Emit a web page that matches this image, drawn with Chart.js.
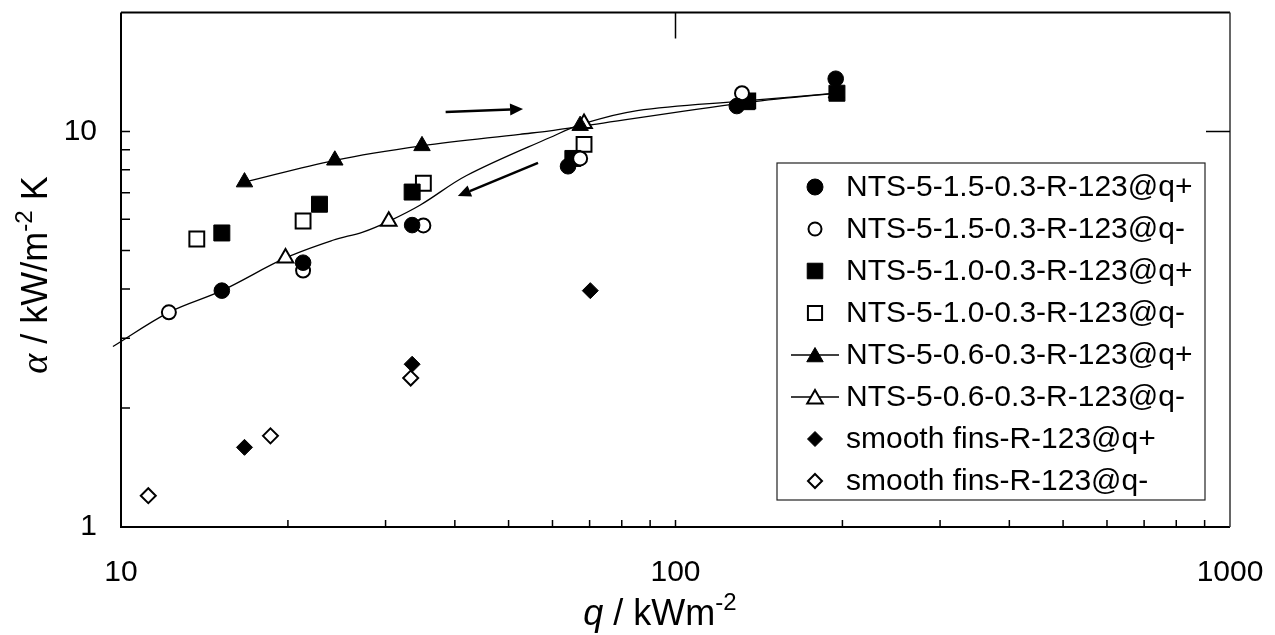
<!DOCTYPE html>
<html>
<head>
<meta charset="utf-8">
<script src="https://cdn.jsdelivr.net/npm/chart.js"></script>
<style>
  html, body { margin: 0; padding: 0; background: #fff; }
</style>
</head>
<body>
<canvas id="chart" width="1275" height="635"></canvas>
<script>
const FONT = '"Liberation Sans", Arial, sans-serif';

// heat flux q (kW/m2) and heat transfer coefficient alpha (kW/m2K)
const q15Up = [15.2, 21.3, 33.5, 64.0, 129, 194.5];
const a15Up = [3.96, 4.66, 5.80, 8.17, 11.6, 13.6];
const q15Down = [12.2, 21.3, 35.1, 67.3, 131.8];
const a15Down = [3.49, 4.45, 5.79, 8.55, 12.5];
const q10Up = [15.2, 22.8, 33.5, 65.3, 134.5, 195.5];
const a10Up = [5.54, 6.55, 7.03, 8.55, 11.9, 12.5];
const q10Down = [13.7, 21.3, 35.1, 68.4, 135];
const a10Down = [5.35, 5.94, 7.40, 9.28, 11.96];
const q06Up = [16.7, 24.3, 34.9, 67.3, 131.8, 195];
const a06Up = [7.45, 8.46, 9.2, 10.35, 11.9, 12.5];
const q06Down = [19.8, 30.4, 68.4, 133];
const a06Down = [4.79, 5.93, 10.48, 12.0];
const qSmoothUp = [16.7, 33.5, 70.2];
const aSmoothUp = [1.59, 2.58, 3.96];
const qSmoothDown = [11.2, 18.6, 33.3];
const aSmoothDown = [1.20, 1.70, 2.38];

// trend lines drawn with the 0.6 series
const qCurveUp = [16.7, 24.3, 34.9, 52.4, 59.4, 67.3, 131.8, 195];
const aCurveUp = [7.45, 8.46, 9.2, 9.84, 10.04, 10.3, 11.8, 12.5];
const qCurveDown = [9.67, 12.2, 15.2, 19.8, 24.1, 27.3, 30.4, 34.6, 42.0, 59.4, 68.4, 85.3, 133, 195];
const aCurveDown = [2.86, 3.49, 3.96, 4.79, 5.31, 5.57, 5.93, 6.51, 7.74, 9.66, 10.48, 11.3, 11.95, 12.5];

const seriesLabels = [
    "NTS-5-1.5-0.3-R-123@q+", "NTS-5-1.5-0.3-R-123@q-",
    "NTS-5-1.0-0.3-R-123@q+", "NTS-5-1.0-0.3-R-123@q-",
    "NTS-5-0.6-0.3-R-123@q+", "NTS-5-0.6-0.3-R-123@q-",
    "smooth fins-R-123@q+", "smooth fins-R-123@q-"
];

const qTicks = [10, 100, 1000];
const aTicks = [1, 10];
const qMinor = [20, 30, 40, 50, 60, 70, 80, 90, 100, 200, 300, 400, 500, 600, 700, 800, 900];
const aMinor = [2, 3, 4, 5, 6, 7, 8, 9, 10];

// direction arrows (q, alpha) from -> to
const arrowFromQ = [38.5, 56.5];
const arrowFromA = [11.2, 8.33];
const arrowToQ = [53.1, 40.5];
const arrowToA = [11.4, 6.87];

function pts(xs, ys) {
    return xs.map((x, i) => ({ x: x, y: ys[i] }));
}

function markerSet(label, xs, ys, style, filled, radius) {
    return {
        label: label,
        data: pts(xs, ys),
        showLine: false,
        pointStyle: style,
        pointRadius: radius,
        pointBackgroundColor: filled ? "#000" : "#fff",
        pointBorderColor: "#000",
        pointBorderWidth: filled ? 1 : 2
    };
}

function curveSet(xs, ys) {
    return {
        label: "",
        data: pts(xs, ys),
        showLine: true,
        pointRadius: 0,
        borderColor: "#000",
        borderWidth: 1.3,
        tension: 0.35,
        clip: false
    };
}

const datasets = [
    markerSet(seriesLabels[0], q15Up, a15Up, "circle", true, 7.8),
    markerSet(seriesLabels[1], q15Down, a15Down, "circle", false, 7),
    markerSet(seriesLabels[2], q10Up, a10Up, "rect", true, 11.3),
    markerSet(seriesLabels[3], q10Down, a10Down, "rect", false, 10.5),
    markerSet(seriesLabels[4], q06Up, a06Up, "triangle", true, 9.5),
    markerSet(seriesLabels[5], q06Down, a06Down, "triangle", false, 9),
    markerSet(seriesLabels[6], qSmoothUp, aSmoothUp, "rectRot", true, 8),
    markerSet(seriesLabels[7], qSmoothDown, aSmoothDown, "rectRot", false, 7.5),
    curveSet(qCurveUp, aCurveUp),
    curveSet(qCurveDown, aCurveDown)
];

function drawMarker(ctx, style, x, y, r, filled) {
    ctx.save();
    ctx.fillStyle = filled ? "#000" : "#fff";
    ctx.strokeStyle = "#000";
    ctx.lineWidth = filled ? 1 : 2;
    ctx.beginPath();
    if (style === "circle") {
        ctx.arc(x, y, r, 0, Math.PI * 2);
    } else if (style === "rect") {
        const s = r * Math.SQRT1_2;
        ctx.rect(x - s, y - s, 2 * s, 2 * s);
    } else if (style === "triangle") {
        ctx.moveTo(x, y - r);
        ctx.lineTo(x + r * 0.866, y + r * 0.5);
        ctx.lineTo(x - r * 0.866, y + r * 0.5);
        ctx.closePath();
    } else if (style === "rectRot") {
        ctx.moveTo(x, y - r);
        ctx.lineTo(x + r, y);
        ctx.lineTo(x, y + r);
        ctx.lineTo(x - r, y);
        ctx.closePath();
    }
    ctx.fill();
    ctx.stroke();
    ctx.restore();
}

function drawRich(ctx, parts, x, y, align) {
    let total = 0;
    parts.forEach(p => { ctx.font = p.font; total += ctx.measureText(p.t).width; });
    let cx = align === "center" ? x - total / 2 : x;
    ctx.textAlign = "left";
    ctx.textBaseline = "alphabetic";
    parts.forEach(p => {
        ctx.font = p.font;
        ctx.fillText(p.t, cx, y + (p.dy || 0));
        cx += ctx.measureText(p.t).width;
    });
}

const framePlugin = {
    id: "frame",
    afterDraw(chart) {
        const ctx = chart.ctx;
        const a = chart.chartArea;
        const xs = chart.scales.x, ys = chart.scales.y;
        ctx.save();
        ctx.strokeStyle = "#000";
        ctx.lineWidth = 2;
        ctx.beginPath();
        ctx.moveTo(a.left, a.top); ctx.lineTo(a.right, a.top);
        ctx.moveTo(a.left, a.top); ctx.lineTo(a.left, a.bottom); ctx.lineTo(a.right, a.bottom);
        ctx.stroke();
        ctx.lineWidth = 1.5;
        ctx.strokeStyle = "#333";
        ctx.beginPath();
        ctx.moveTo(a.right, a.top); ctx.lineTo(a.right, a.bottom);
        ctx.stroke();

        // inward minor ticks
        ctx.strokeStyle = "#000";
        ctx.lineWidth = 1.5;
        ctx.beginPath();
        qMinor.forEach(v => {
            const px = xs.getPixelForValue(v);
            ctx.moveTo(px, a.bottom); ctx.lineTo(px, a.bottom - 7);
        });
        aMinor.forEach(v => {
            const py = ys.getPixelForValue(v);
            ctx.moveTo(a.left, py); ctx.lineTo(a.left + 9, py);
        });
        // secondary axis marks
        const p100 = xs.getPixelForValue(100);
        ctx.moveTo(p100, a.top); ctx.lineTo(p100, a.top + 26);
        const p10 = ys.getPixelForValue(10);
        ctx.moveTo(a.right, p10); ctx.lineTo(a.right - 24, p10);
        ctx.stroke();

        // arrows
        ctx.fillStyle = "#000";
        ctx.lineWidth = 2.5;
        arrowFromQ.forEach((q0, i) => {
            const x1 = xs.getPixelForValue(q0), y1 = ys.getPixelForValue(arrowFromA[i]);
            const x2 = xs.getPixelForValue(arrowToQ[i]), y2 = ys.getPixelForValue(arrowToA[i]);
            const ang = Math.atan2(y2 - y1, x2 - x1);
            const hl = 13, hw = 6;
            const bx = x2 - hl * Math.cos(ang), by = y2 - hl * Math.sin(ang);
            ctx.beginPath();
            ctx.moveTo(x1, y1); ctx.lineTo(bx, by);
            ctx.stroke();
            ctx.beginPath();
            ctx.moveTo(x2, y2);
            ctx.lineTo(bx + hw * Math.sin(ang), by - hw * Math.cos(ang));
            ctx.lineTo(bx - hw * Math.sin(ang), by + hw * Math.cos(ang));
            ctx.closePath();
            ctx.fill();
        });

        // legend box
        const lx = 777, ly = 163, lw = 428, lh = 337;
        ctx.fillStyle = "#fff";
        ctx.fillRect(lx, ly, lw, lh);
        ctx.strokeStyle = "#222";
        ctx.lineWidth = 1.2;
        ctx.strokeRect(lx, ly, lw, lh);
        const styles = ["circle", "circle", "rect", "rect", "triangle", "triangle", "rectRot", "rectRot"];
        const radii = [8, 6.5, 11, 10, 9.5, 9, 7.5, 7];
        styles.forEach((st, i) => {
            const ry = 187 + i * 42;
            if (i === 4 || i === 5) {
                ctx.strokeStyle = "#000";
                ctx.lineWidth = 1.3;
                ctx.beginPath();
                ctx.moveTo(791, ry); ctx.lineTo(839, ry);
                ctx.stroke();
            }
            drawMarker(ctx, st, 815, ry + (st === "triangle" ? 2 : 0), radii[i], i % 2 === 0);
            ctx.fillStyle = "#000";
            ctx.font = "30px " + FONT;
            ctx.textAlign = "left";
            ctx.textBaseline = "middle";
            ctx.fillText(seriesLabels[i], 846, ry + 1);
        });

        // axis titles
        ctx.fillStyle = "#000";
        drawRich(ctx, [
            { t: "q", font: "italic 36px " + FONT },
            { t: " / kWm", font: "36px " + FONT },
            { t: "-2", font: "24px " + FONT, dy: -15 }
        ], 660, 625, "center");
        ctx.save();
        ctx.translate(47, 275);
        ctx.rotate(-Math.PI / 2);
        drawRich(ctx, [
            { t: "\u03b1", font: "italic 38px \"Liberation Serif\", serif" },
            { t: " / kW/m", font: "36px " + FONT },
            { t: "-2", font: "24px " + FONT, dy: -15 },
            { t: " K", font: "36px " + FONT }
        ], 0, 0, "center");
        ctx.restore();
        ctx.restore();
    }
};

function zeroPad(s) {
    s.paddingTop = 0; s.paddingBottom = 0; s.paddingLeft = 0; s.paddingRight = 0;
}

new Chart(document.getElementById("chart"), {
    type: "scatter",
    data: { datasets: datasets },
    options: {
        responsive: false,
        animation: false,
        layout: { padding: { top: 12, right: 45, left: 0, bottom: 0 } },
        plugins: { legend: { display: false }, tooltip: { enabled: false } },
        scales: {
            x: {
                type: "logarithmic",
                min: 10,
                max: 1000,
                grid: { display: false, drawTicks: false },
                border: { display: false },
                ticks: {
                    color: "#000",
                    font: { family: FONT, size: 30 },
                    padding: 28,
                    maxRotation: 0,
                    autoSkip: false,
                    callback: v => String(v)
                },
                afterBuildTicks: s => { s.ticks = qTicks.map(v => ({ value: v })); },
                afterFit: s => { s.height = 108; zeroPad(s); }
            },
            y: {
                type: "logarithmic",
                min: 1,
                max: 20,
                grid: { display: false, drawTicks: false },
                border: { display: false },
                ticks: {
                    color: "#000",
                    font: { family: FONT, size: 30 },
                    padding: 24,
                    autoSkip: false,
                    callback: v => String(v)
                },
                afterBuildTicks: s => { s.ticks = aTicks.map(v => ({ value: v })); },
                afterFit: s => { s.width = 121; zeroPad(s); }
            }
        }
    },
    plugins: [framePlugin]
});
</script>
</body>
</html>
